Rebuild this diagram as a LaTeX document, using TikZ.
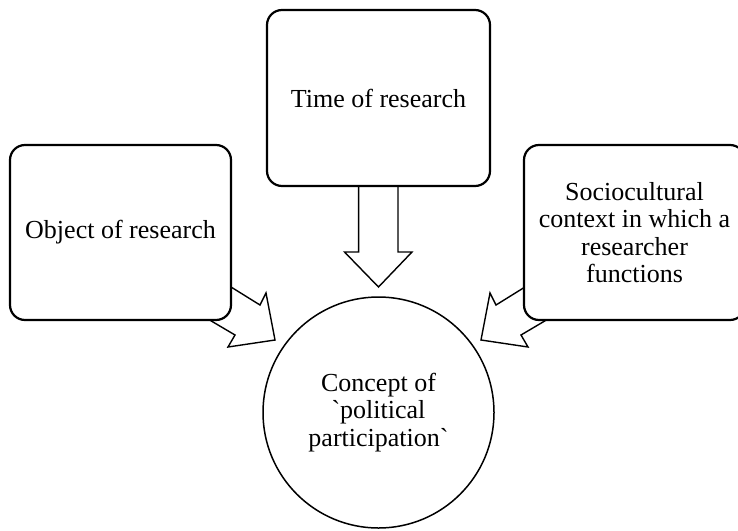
\documentclass[tikz,border=0pt]{standalone}
\usepackage{fontspec}
\setmainfont{Liberation Serif}
\begin{document}
\begin{tikzpicture}[x=1pt,y=1pt,
  box/.style={draw, line width=2.2pt, rounded corners=15pt, fill=white, inner sep=2pt,
    minimum width=221pt, minimum height=175pt, align=center,
    font=\fontsize{26}{27.5}\selectfont},
  blockarrow/.style={draw, line width=1.4pt, fill=white, line join=miter},
  round/.style={draw, circle, line width=1.5pt, fill=white, inner sep=0pt,
    minimum size=231pt, align=center, font=\fontsize{26}{27.5}\selectfont}]
\useasboundingbox (0,0) rectangle (738,-530);
\clip (0,0) rectangle (738,-530);
% block arrows (behind the boxes)
\draw[blockarrow] (216.5,-278) -- (260,-305) -- (266,-293) -- (275,-340)
  -- (228,-347) -- (235,-335) -- (191,-309) -- cycle;
\draw[blockarrow] (539.5,-278) -- (496,-305) -- (490,-293) -- (481,-340)
  -- (528,-347) -- (521,-335) -- (565,-309) -- cycle;
\draw[blockarrow] (358.6,-175) -- (358.6,-252) -- (344.5,-252) -- (378.5,-287)
  -- (412,-252) -- (398,-252) -- (398,-175) -- cycle;
% boxes
\node[box, minimum width=223pt, minimum height=176pt] (time) at (378.5,-98) {Time of research};
\node[box] (object) at (120.5,-232.5) {Object of research};
\node[box] (context) at (634.5,-232.5) {Sociocultural\\context in which a\\researcher\\functions};
\node[round] (concept) at (378.5,-412.5) {Concept of\\\textasciigrave political\\participation\textasciigrave};
\end{tikzpicture}
\end{document}
